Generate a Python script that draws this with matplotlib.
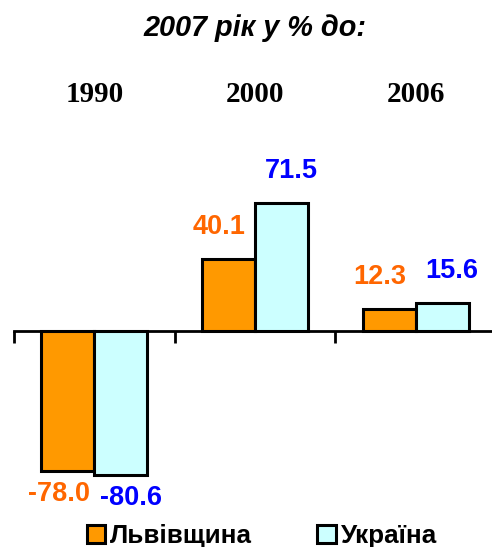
import matplotlib
matplotlib.use("Agg")
import matplotlib.pyplot as plt
import matplotlib.transforms as mtransforms
import numpy as np

title = "2007 рік у % до:"
years = ["1990", "2000", "2006"]
series_names = ["Львівщина", "Україна"]
lviv = [-78.0, 40.1, 12.3]
ukraine = [-80.6, 71.5, 15.6]

bar_colors = ["#FF9900", "#CCFFFF"]
label_colors = ["#FF6600", "#0000FF"]

W, H = 492, 547
fig = plt.figure(figsize=(W / 100, H / 100), dpi=100)
ax = fig.add_axes([14 / W, (H - 492) / H, 482 / W, 170 * 1.79 / H])
ax.set_xlim(-0.5, 2.5)
ax.set_ylim(-90, 80)

x = np.arange(len(years))
bw = 0.33
b1 = ax.bar(x - bw / 2, lviv, bw, color=bar_colors[0], edgecolor="black", linewidth=2.2, label=series_names[0], zorder=3)
b2 = ax.bar(x + bw / 2, ukraine, bw, color=bar_colors[1], edgecolor="black", linewidth=2.2, label=series_names[1], zorder=3)

for bars, vals, col, dx in [(b1, lviv, label_colors[0], -9), (b2, ukraine, label_colors[1], 10)]:
    for rect, v in zip(bars, vals):
        cx = rect.get_x() + rect.get_width() / 2
        dy = 32 if v >= 0 else -23
        ax.annotate(f"{v:.1f}", (cx, v), xytext=(dx, dy), textcoords="offset pixels",
                    ha="center", va="center", color=col, fontsize=19.5, fontweight="bold",
                    family="Liberation Sans", annotation_clip=False)

for s in ["left", "right", "top"]:
    ax.spines[s].set_visible(False)
ax.spines["bottom"].set_position(("data", 0))
ax.spines["bottom"].set_linewidth(2)
ax.set_yticks([])
ax.set_xticks([-0.5, 0.5, 1.5, 2.5])
ax.set_xticklabels([])
ax.tick_params(axis="x", direction="out", length=8.5, width=2)

trans = mtransforms.blended_transform_factory(ax.transData, fig.transFigure)
for xi, yr in zip(x, years):
    ax.text(xi, 1 - 95 / H, yr, transform=trans, ha="center", va="center",
            family="Liberation Serif", fontweight="bold", fontsize=21)

fig.text(255 / W, 1 - 28 / H, title, ha="center", va="center",
         family="Liberation Sans", fontweight="bold", fontstyle="italic", fontsize=20.8)

leg = fig.legend(handles=[b1, b2], loc="center", bbox_to_anchor=(262 / W, 1 - 536 / H),
                 ncol=2, frameon=False, handlelength=0.7, handleheight=0.7,
                 handletextpad=0.2, columnspacing=2.5, borderpad=0,
                 prop={"family": "Liberation Sans", "weight": "bold", "size": 18.7})

fig.savefig("out.png", dpi=100)
